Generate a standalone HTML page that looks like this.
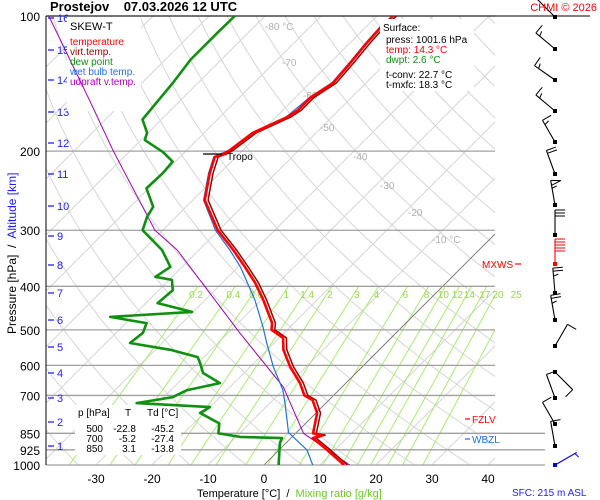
<!DOCTYPE html>
<html><head><meta charset="utf-8"><style>
body{margin:0;background:#fff;}
svg{display:block;font-family:"Liberation Sans",sans-serif;}
</style></head><body>
<svg id="c" width="600" height="500" viewBox="0 0 600 500"></svg>
<script>
// ---- data ----
const tempP=[1000,926,871,858,850,766,717,700,657,604,554,521,500,483,429,393,362,332,300,257,224,206,203,199,182,168,162,152,141,127,115,106,100];
const tempT=[14.3,8.6,3.9,5.0,3.1,0.2,-2.9,-5.2,-8.2,-12.9,-17.1,-19.3,-22.8,-23.9,-29.6,-34.1,-38.8,-43.9,-50.2,-57.9,-61.8,-63.8,-62.8,-62.3,-61.3,-58.0,-57.3,-57.3,-55.9,-56.4,-57.0,-57.3,-57.1];
const dewP=[1000,893,871,866,850,808,766,743,728,706,681,657,624,593,575,554,535,508,483,468,456,436,408,387,381,362,332,300,280,266,242,224,211,201,189,182,170,159,141,125,109,100];
const dewT=[2.6,-1.1,-1.6,-9.3,-13.8,-15.4,-20.7,-20.0,-33.8,-28.4,-27.1,-22.5,-27.3,-29.6,-31.1,-37.3,-45.7,-45.2,-46.3,-53.9,-40.2,-47.9,-47.5,-49.5,-53.0,-52.1,-56.6,-63.6,-65.2,-65.9,-70.4,-70.2,-70.5,-73.9,-79.3,-80.2,-83.4,-83.8,-84.5,-85.5,-85.5,-85.4];
const wbP=[1000,926,847,728,681,604,535,493,429,362,332,300,257,224,206,199,182,168,152,141,127,115,106,100];
const wbT=[8.7,5.0,-1.4,-7.3,-10.0,-15.9,-21.3,-24.8,-31.1,-39.6,-44.5,-50.6,-58.1,-62.0,-64.0,-62.5,-61.5,-58.2,-57.5,-56.1,-56.6,-57.2,-57.5,-57.3];
const parP=[1000,850,670,508,332,300,199,154,100];
const parT=[15.3,1.4,-10.5,-27.9,-53.9,-61.4,-83.2,-96.3,-118.6];
const isobars=[100,200,300,400,500,600,700,850,925,1000];
const tempTicks=[-30,-20,-10,0,10,20,30,40];
const mixRatios=[0.2,0.4,0.6,1,1.4,2,3,4,6,8,10,12,14,17,20,25];
const altKm=[16,15,14,13,12,11,10,9,8,7,6,5,4,3,2,1];
const altY=[18,50,80,112,143,174,206,236,265,293,320,347,373,398,422,446];
const windY=[17,49,80,111,142,174,205,235,264,293,320,346,372,398,424,446,465];
const windDir=[315,310,305,310,330,340,350,0,0,355,350,30,135,340,330,350,60];
const windSpd=[10,15,15,15,15,20,55,30,50,25,25,10,10,10,10,10,5];
const tableRows=[["500","-22.8","-45.2"],["700","-5.2","-27.4"],["850","3.1","-13.8"]];

// ---- axes ----
const X0=46,X1=495,Y0=16,Y1=465;
const yP=p=>Y0+(Y1-Y0)*Math.log10(p/100);
const xT=(t,p)=>264+5.6*t+(Y1-yP(p));
const svg=document.getElementById('c');
const NS='http://www.w3.org/2000/svg';
function el(tag,at,parent){const e=document.createElementNS(NS,tag);for(const k in at)e.setAttribute(k,at[k]);(parent||svg).appendChild(e);return e;}
function txt(s,at,parent){const e=el('text',at,parent);e.textContent=s;return e;}

const defs=el('defs',{});
const cp=el('clipPath',{id:'pc'},defs);el('rect',{x:X0,y:Y0,width:X1-X0,height:Y1-Y0},cp);
const grid=el('g',{'clip-path':'url(#pc)'});



for(let t=-160;t<=50;t+=10){
  const l=el('line',{x1:xT(t,1000),y1:Y1,x2:xT(t,100),y2:Y0,stroke:'#d6d6d6','stroke-width':1},grid);
  
  
}
for(let th=230;th<=520;th+=10){
  let d='';
  for(let p=1050;p>=95;p-=10){const t=th*Math.pow(p/1000,0.286)-273.15;d+=(d?'L':'M')+xT(t,p).toFixed(1)+','+yP(p).toFixed(1);}
  const a=el('path',{d:d,fill:'none',stroke:'#d6d6d6','stroke-width':1},grid);
  
  
}
function tdFromW(w,p){const e=w*p/(622+w);const g=Math.log(e/6.112);return 243.5*g/(17.67-g);}
mixRatios.forEach(w=>{
  const l=el('line',{x1:xT(tdFromW(w,1000),1000),y1:Y1,x2:xT(tdFromW(w,400),400),y2:yP(400),stroke:'#a8ec70','stroke-width':1},grid);
  
  
  const lb=txt(String(w),{x:xT(tdFromW(w,400),400)-2,y:298,'font-size':10,fill:'#9ad64e','text-anchor':'middle'});
  
  
});
const zi=el('line',{x1:xT(0,1000),y1:Y1,x2:X1,y2:Y1-(X1-xT(0,1000)),stroke:'#707070','stroke-width':0.8},grid);


[[-80,265,30],[-70,282,66],[-60,303,99],[-50,320,131],[-40,353,160],[-30,380,189],[-20,408,216],[-10,432,243]].forEach(([t,x,y])=>{
  const s=txt((t==-80||t==-10)?t+' °C':String(t),{x:x,y:y,'font-size':10,fill:'#b0b0b0'});
  
  
});
isobars.forEach(p=>{
  const ext=(p>=850)?545:X1;
  const l=el('line',{x1:X0,y1:yP(p),x2:ext,y2:yP(p),stroke:'#a0a0a0','stroke-width':1.3});
  
  
  const lb=txt(String(p),{x:40,y:yP(p)+5,'font-size':12,fill:'#000','text-anchor':'end'});
  
  
});
const tl=el('line',{x1:X0,y1:Y0,x2:590,y2:Y0,stroke:'#000','stroke-width':1});


const al=el('line',{x1:X0,y1:Y0,x2:X0,y2:Y1,stroke:'#000','stroke-width':1});


tempTicks.forEach(t=>{
  const lb=txt(String(t),{x:xT(t,1000),y:483,'font-size':12,fill:'#000','text-anchor':'middle'});
  
  
});
altKm.forEach((k,i)=>{
  const l=el('line',{x1:48,y1:altY[i],x2:54,y2:altY[i],stroke:'#2020ff','stroke-width':1.3});
  
  
  const lb=txt(String(k),{x:57,y:altY[i]+4,'font-size':11,fill:'#2020ff'});
  
  
});

// backgrounds for boxes (below series)
const lgbg=el('rect',{x:67,y:17,width:74,height:94,fill:'#fff'});


const tbbg=el('rect',{x:75,y:405,width:106,height:50,fill:'#fff'});



const ser=el('g',{'clip-path':'url(#pc)'});
function line(P,T,color,w,name,dt){
  let d='';P.forEach((p,i)=>{d+=(i?'L':'M')+xT(T[i]+(dt||0),p).toFixed(1)+','+yP(p).toFixed(1);});
  const e=el('path',{d:d,fill:'none',stroke:color,'stroke-width':w,'stroke-linejoin':'round'},ser);
  
  
}
line(parP,parT,'#a000b0',1,'updraft-virtual-temp-line');
line(wbP,wbT,'#2070e0',1.2,'wet-bulb-line');
line(tempP,tempT,'#a00000',1.5,'virtual-temp-line',0.6);
line(tempP,tempT,'#ff0000',2.6,'temperature-line');
line(dewP,dewT,'#109010',2.6,'dew-point-line');

const tp=el('line',{x1:203,y1:154,x2:222,y2:154,stroke:'#000','stroke-width':1.2});


const tpl=txt('Tropo',{x:227,y:160,'font-size':10,fill:'#000'});



const lg=el('g',{});


txt('SKEW-T',{x:70,y:30,'font-size':11,fill:'#000'},lg);
[['temperature','#ff0000'],['virt.temp.','#a00000'],['dew point','#109010'],['wet bulb temp.','#2070e0'],['udpraft v.temp.','#b000c0']].forEach((e,i)=>{
  const t=txt(e[0],{x:70,y:45+i*10,'font-size':10,fill:e[1]},lg);
  
  
});

const sb=el('g',{});


el('rect',{x:380,y:19,width:94,height:72,fill:'#fff'},sb);
txt('Surface:',{x:383,y:31,'font-size':10,fill:'#000'},sb);
txt('press: 1001.6 hPa',{x:386,y:43,'font-size':10,fill:'#000'},sb);
txt('temp: 14.3 °C',{x:386,y:53,'font-size':10,fill:'#ff0000'},sb);
txt('dwpt: 2.6 °C',{x:386,y:63,'font-size':10,fill:'#109010'},sb);
txt('t-conv: 22.7 °C',{x:386,y:78,'font-size':10,fill:'#000'},sb);
txt('t-mxfc: 18.3 °C',{x:386,y:88,'font-size':10,fill:'#000'},sb);

const tb=el('g',{});


txt('p [hPa]',{x:78,y:416,'font-size':10,fill:'#000'},tb);
txt('T',{x:125,y:416,'font-size':10,fill:'#000'},tb);
txt('Td [°C]',{x:147,y:416,'font-size':10,fill:'#000'},tb);
tableRows.forEach((r,i)=>{
  const y=432+i*10;
  txt(r[0],{x:103,y:y,'font-size':10,fill:'#000','text-anchor':'end'},tb);
  txt(r[1],{x:136,y:y,'font-size':10,fill:'#000','text-anchor':'end'},tb);
  txt(r[2],{x:174,y:y,'font-size':10,fill:'#000','text-anchor':'end'},tb);
});

function mark(label,x,y,color,name,dx1,dx2){
  const g=el('g',{});
  
  
  el('line',{x1:dx1,y1:y,x2:dx2,y2:y,stroke:color,'stroke-width':1.2},g);
  txt(label,{x:x,y:y+4,'font-size':10,fill:color},g);
}
mark('FZLV',472,419,'#ff0000','fzlv-marker',465,470);
mark('WBZL',472,439,'#2070e0','wbzl-marker',465,470);
mark('MXWS',482,264,'#ff0000','mxws-marker',515,521);

const wg=el('g',{});


windY.forEach((y,i)=>{
  const col=i==8?'#ff0000':(i==16?'#0000ff':'#000');
  const g=el('g',{},wg);
  
  
  const a=windDir[i]*Math.PI/180, L=25;
  const ux=Math.sin(a),uy=-Math.cos(a);
  const ex=555+ux*L, ey=y+uy*L;
  el('line',{x1:555,y1:y,x2:ex,y2:ey,stroke:col,'stroke-width':1.1},g);
  el('rect',{x:553,y:y-2,width:4,height:4,fill:col},g);
  let s=windSpd[i],pos=0;
  const px=-uy,py=ux;
  if(i!=8){
    while(s>=50){const bx=ex-ux*pos,by=ey-uy*pos;el('path',{d:`M${bx},${by}L${bx+px*10-ux*2},${by+py*10-uy*2}L${bx-ux*5},${by-uy*5}`,fill:'none',stroke:col,'stroke-width':1},g);pos+=6;s-=50;}
  }
  while(s>=10){const bx=ex-ux*pos,by=ey-uy*pos;el('line',{x1:bx,y1:by,x2:bx+px*10,y2:by+py*10,stroke:col,'stroke-width':1},g);pos+=3;s-=10;}
  if(s>=5){const bx=ex-ux*(pos+2),by=ey-uy*(pos+2);el('line',{x1:bx,y1:by,x2:bx+px*5+ux*1.5,y2:by+py*5+uy*1.5,stroke:col,'stroke-width':1},g);}
});

const tt=el('text',{x:50,y:11,'font-size':13,'font-weight':'bold',fill:'#000',style:'white-space:pre'});
tt.textContent='Prostejov    07.03.2026 12 UTC';


const cr=txt('CHMI © 2026',{x:597,y:11,'font-size':11,fill:'#ff0000','text-anchor':'end'});


const xa=el('text',{x:197,y:497,'font-size':11,fill:'#000',style:'white-space:pre'});


xa.innerHTML='Temperature [°C]  /  <tspan fill="#66cc22">Mixing ratio [g/kg]</tspan>';
const ya=el('text',{x:0,y:0,'font-size':12,fill:'#000',transform:'translate(16,334) rotate(-90)',style:'white-space:pre'});


ya.innerHTML='Pressure [hPa]  /  <tspan fill="#2020ff">Altitude [km]</tspan>';
const sf=txt('SFC: 215 m ASL',{x:512,y:496,'font-size':10,fill:'#2020ff'});


</script>
</body></html>
